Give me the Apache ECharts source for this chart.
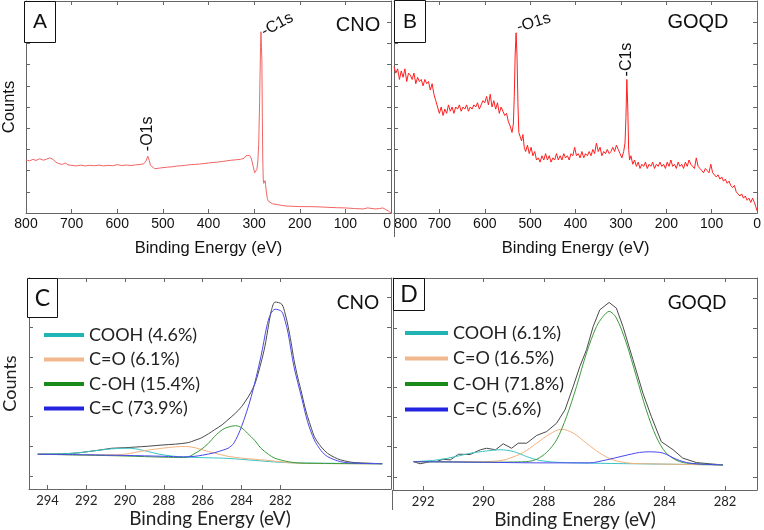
<!DOCTYPE html>
<html><head><meta charset="utf-8">
<script src="https://cdn.jsdelivr.net/npm/echarts@6/dist/echarts.min.js"></script>
<style>html,body{margin:0;padding:0;background:#fff}#c{width:764px;height:530px}</style>
</head><body><div id="c"></div>
<script>
// ---------- DATA ----------
const surveyMin = 0, surveyMax = 800;
const xLabel = 'Binding Energy (eV)';
const yLabel = 'Counts';
const panelLetters = ['A', 'B', 'C', 'D'];
const sampleNames = ['CNO', 'GOQD', 'CNO', 'GOQD'];

// survey spectra [binding energy, counts (arb.)]
const cnoSurvey = [[800,25.0],[792,24.6],[785,25.3],[778,24.8],[770,25.6],[762,24.9],[755,25.4],[748,26.0],[744,26.8],[740,25.2],[735,24.0],[728,23.3],[720,22.9],[714,23.6],[708,22.7],[700,22.5],[690,22.2],[680,22.6],[670,22.2],[660,22.5],[650,22.3],[640,22.6],[630,22.2],[620,22.5],[610,22.3],[600,22.8],[590,22.4],[580,22.6],[570,22.4],[560,22.7],[550,22.9],[542,23.2],[537,24.5],[533,26.8],[530,24.8],[527,22.5],[523,21.6],[518,20.9],[510,21.1],[500,21.4],[490,21.6],[480,21.8],[470,22.1],[460,22.3],[450,22.5],[440,22.8],[430,22.9],[420,23.1],[410,23.3],[400,23.6],[390,23.8],[380,24.0],[370,24.3],[360,24.6],[350,24.9],[340,25.1],[330,25.3],[322,25.8],[318,27.0],[314,27.6],[310,27.2],[306,25.6],[302,22.0],[299,19.0],[297,18.3],[294,20.5],[292,24],[290,32],[288,52],[286,78],[285,85.5],[284,86],[283,72],[282,45],[281,25],[280,16],[279,14],[277,13.3],[276,15.3],[275,13.5],[273,9.5],[271,6.8],[269,5.6],[265,4.9],[260,4.4],[250,4.0],[240,3.6],[230,3.3],[220,3.2],[200,3.0],[180,3.0],[160,2.9],[140,2.7],[120,2.5],[100,2.4],[80,2.1],[60,1.9],[52,2.4],[48,2.9],[44,2.2],[35,1.9],[25,2.1],[18,2.4],[12,1.7],[6,1.0],[2,0.5],[0,0]];

const goqdSurvey = [[800,69],[796,66],[792,68],[788,63],[784,67],[780,64],[776,68],[772,62],[768,66],[764,65],[760,63],[756,66],[752,61],[748,64],[744,62],[740,63],[736,60],[732,63],[728,61],[724,62],[720,58],[716,61],[712,56],[708,53],[704,50],[700,47],[696,50],[692,46],[688,49],[684,47],[680,51],[676,48],[672,50],[668,47],[664,50],[660,49],[656,51],[652,48],[648,50],[644,49],[640,51],[636,48],[632,50],[628,49],[624,51],[620,50],[616,52],[612,49],[608,51],[604,53],[600,52],[596,55],[592,51],[588,56],[584,50],[580,53],[576,49],[572,52],[568,47],[564,50],[560,48],[556,46],[552,47],[548,43],[544,41],[540,38],[537,42],[535,55],[533,75],[531,85],[529,74],[527,52],[525,38],[522,36],[519,34],[516,37],[513,31],[510,29],[506,32],[502,28],[498,31],[494,27],[490,29],[486,25],[482,26],[478,24],[474,27],[470,25],[466,28],[462,25],[458,27],[454,24],[450,26],[446,25],[442,28],[438,25],[434,27],[430,25],[426,28],[422,26],[418,27],[414,25],[410,28],[406,27],[402,31],[398,27],[394,28],[390,26],[386,29],[382,26],[378,28],[374,27],[370,29],[366,27],[362,30],[358,28],[354,33],[350,29],[346,31],[342,27],[338,29],[334,28],[330,30],[326,28],[322,29],[318,31],[314,29],[310,32],[306,30],[302,28],[298,26],[294,29],[291,33],[289,45],[287,63],[285,50],[283,30],[281,25],[278,27],[274,23],[270,25],[266,22],[262,24],[258,21],[254,23],[250,22],[246,24],[242,21],[238,23],[234,22],[230,24],[226,21],[222,23],[218,22],[214,24],[210,22],[206,23],[202,21],[198,24],[194,22],[190,25],[186,22],[182,23],[178,21],[174,24],[170,22],[166,23],[162,21],[158,24],[154,22],[150,25],[146,23],[142,22],[138,21],[134,26],[130,22],[126,21],[122,20],[118,19],[114,21],[110,20],[106,19],[102,23],[98,19],[94,18],[90,17],[86,18],[82,16],[78,17],[74,15],[70,16],[66,14],[62,15],[58,13],[54,12],[50,13],[46,10],[42,9],[38,8],[34,9],[30,7],[26,8],[22,6],[18,7],[14,5],[10,7],[6,5],[3,3],[0,1]];

// C1s high-resolution tick labels
const cnoTicks = [282, 284, 286, 288, 290, 292, 294];
const goqdTicks = [282, 284, 286, 288, 290, 292];
const countTicks = [0, 1, 2, 3, 4, 5, 6];

const cnoLegend = ['COOH (4.6%)', 'C=O (6.1%)', 'C-OH (15.4%)', 'C=C (73.9%)'];
const goqdLegend = ['COOH (6.1%)', 'C=O (16.5%)', 'C-OH (71.8%)', 'C=C (5.6%)'];

// CNO C1s
const cnoEnvelope = [[294.5,0.73],[293.5,0.74],[292.5,0.77],[291.9,0.82],[291.2,0.88],[290.7,0.93],[290,0.95],[289.5,0.97],[288.8,1.0],[288.1,1.04],[287.4,1.07],[286.75,1.12],[286.4,1.2],[286.1,1.27],[285.7,1.42],[285.4,1.55],[285,1.72],[284.7,1.89],[284.3,2.12],[284.0,2.33],[283.6,2.72],[283.3,3.12],[283.0,3.8],[282.8,4.35],[282.6,5.1],[282.45,5.6],[282.27,5.85],[281.93,5.78],[281.75,5.45],[281.6,5.03],[281.45,4.5],[281.3,3.91],[281.1,3.3],[280.9,2.78],[280.75,2.35],[280.6,2.0],[280.4,1.6],[280.25,1.32],[279.9,0.98],[279.57,0.76],[279.2,0.62],[278.9,0.54],[278.5,0.48],[278.2,0.45],[277.5,0.43],[276.75,0.41]];
const cnoCOOH = [[294.5,0.73],[293,0.75],[292.1,0.8],[291.4,0.86],[290.7,0.91],[290.1,0.93],[289.7,0.93],[289.2,0.88],[288.8,0.82],[288.3,0.74],[287.6,0.67],[286.75,0.63],[285.7,0.61],[284.7,0.59],[283.3,0.52],[282.3,0.47],[281.3,0.44],[276.75,0.41]];
const cnoCO = [[294.5,0.73],[292,0.71],[290.5,0.71],[289.9,0.74],[289.5,0.79],[288.8,0.87],[288.1,0.93],[287.4,0.98],[286.9,0.99],[286.4,0.95],[285.7,0.82],[285.1,0.72],[284.7,0.66],[284,0.6],[283.3,0.56],[282.3,0.5],[281.6,0.45],[280.5,0.42],[276.75,0.41]];
const cnoCOH = [[294.5,0.73],[292,0.7],[290,0.67],[288,0.63],[287,0.62],[286.75,0.64],[286.5,0.72],[286.1,0.88],[285.7,1.1],[285.4,1.32],[285,1.55],[284.7,1.64],[284.3,1.69],[284.0,1.62],[283.7,1.44],[283.3,1.18],[283.0,0.93],[282.6,0.72],[282.3,0.6],[281.6,0.48],[280.9,0.43],[276.75,0.41]];
const cnoCC = [[294.5,0.73],[292,0.71],[290,0.69],[288,0.66],[287,0.64],[286.4,0.66],[286,0.7],[285.4,0.78],[285,0.86],[284.7,0.93],[284.4,1.1],[284.0,1.66],[283.5,2.67],[283.0,4.02],[282.7,5.03],[282.5,5.45],[282.27,5.61],[281.93,5.53],[281.75,5.2],[281.6,4.8],[281.3,3.68],[280.9,2.62],[280.6,1.83],[280.25,1.21],[279.9,0.85],[279.57,0.65],[278.9,0.48],[278.2,0.43],[276.75,0.41]];

// GOQD C1s
const goqdEnvelope = [[292.32,0.51],[292.1,0.44],[291.77,0.51],[291.55,0.52],[291.33,0.59],[291.1,0.57],[290.83,0.76],[290.45,0.75],[290.1,0.91],[289.9,0.96],[289.6,0.91],[289.35,1.11],[289.07,0.96],[288.85,1.13],[288.57,1.13],[288.24,1.39],[287.91,1.52],[287.58,1.8],[287.3,2.25],[287.03,3.03],[286.81,3.7],[286.59,4.26],[286.37,5.04],[286.15,5.6],[285.84,5.85],[285.6,5.66],[285.38,5.04],[285.05,3.93],[284.72,2.81],[284.44,2.02],[284.11,1.18],[283.72,0.91],[283.4,0.63],[282.95,0.48],[282.51,0.44],[282.07,0.4]];
const goqdCOOH = [[292.32,0.51],[291.7,0.55],[291.22,0.62],[290.8,0.71],[290.45,0.79],[289.9,0.87],[289.45,0.91],[289.01,0.85],[288.57,0.68],[288.13,0.55],[287.58,0.49],[286.5,0.46],[285,0.44],[283.5,0.42],[282.07,0.4]];
const goqdCO = [[292.32,0.51],[291,0.51],[290,0.51],[289.5,0.54],[289.23,0.59],[288.68,0.82],[288.24,1.13],[287.8,1.44],[287.42,1.6],[287.03,1.47],[286.59,1.13],[286.15,0.8],[285.71,0.57],[285.16,0.46],[284.6,0.44],[283.5,0.42],[282.07,0.4]];
const goqdCOH = [[292.32,0.51],[291,0.5],[290,0.49],[289,0.5],[288.5,0.52],[288.24,0.59],[287.91,0.82],[287.58,1.24],[287.25,2.02],[286.92,3.03],[286.59,4.15],[286.26,5.04],[286.04,5.38],[285.84,5.55],[285.6,5.33],[285.27,4.49],[284.94,3.37],[284.61,2.25],[284.28,1.35],[283.95,0.8],[283.5,0.51],[282.95,0.44],[282.07,0.4]];
const goqdCC = [[292.32,0.51],[290,0.49],[288,0.47],[286.5,0.47],[285.93,0.57],[285.38,0.7],[284.83,0.82],[284.5,0.84],[284.06,0.8],[283.61,0.59],[283.17,0.46],[282.07,0.4]];

// ---------- STYLE ----------
const ARIAL = '"Liberation Sans", Arial, sans-serif';
const CAL = 'Lato, "Open Sans", sans-serif';
const axisCol = '#666';
const compLine = ['#3cc4c4', '#f2b27e', '#3c9c3c', '#4848ee'];
const compLegend = ['#20b4b4', '#f0b88c', '#1a8a1a', '#2323e0'];

const grids = [
  {left: 24, top: 1, width: 367, height: 212},
  {left: 394, top: 1, width: 367, height: 212},
  {left: 27, top: 278, width: 364, height: 211},
  {left: 393, top: 278, width: 364, height: 212}
];

function surveyX(gi, top) {
  return {
    type: 'value', gridIndex: gi, inverse: true, min: surveyMin, max: surveyMax, interval: 100,
    position: top ? 'top' : 'bottom',
    axisLine: {show: true, onZero: false, lineStyle: {color: axisCol, width: 1}},
    axisTick: {show: true, inside: true, length: 4, lineStyle: {color: axisCol}},
    splitLine: {show: false},
    axisLabel: top ? {show: false} : {show: true, fontFamily: ARIAL, fontSize: 14, color: '#111', margin: 4,
      alignMinLabel: gi === 0 ? 'right' : undefined, alignMaxLabel: gi === 1 ? 'left' : undefined},
    name: top ? '' : xLabel, nameLocation: 'middle', nameGap: 27,
    nameTextStyle: {fontFamily: ARIAL, fontSize: 16.5, color: '#111'}
  };
}
function hrX(gi, min, max, ticks, top) {
  return {
    type: 'value', gridIndex: gi, inverse: true, min: min, max: max,
    position: top ? 'top' : 'bottom',
    axisLine: {show: true, onZero: false, lineStyle: {color: axisCol, width: 1}},
    axisTick: {show: true, inside: true, length: 4, customValues: ticks, lineStyle: {color: axisCol}},
    splitLine: {show: false},
    axisLabel: top ? {show: false} : {show: true, customValues: ticks, fontFamily: CAL, fontSize: 13, color: '#222', margin: 5},
    name: top ? '' : xLabel, nameLocation: 'middle', nameGap: 20,
    nameTextStyle: {fontFamily: CAL, fontSize: 19, color: '#222'}
  };
}
function surveyY(gi, right, named) {
  return {
    type: 'value', gridIndex: gi, min: 0, max: 100, interval: 10, position: right ? 'right' : 'left',
    axisLine: {show: true, onZero: false, lineStyle: {color: axisCol, width: 1}},
    axisTick: {show: true, inside: true, length: 4, lineStyle: {color: axisCol}},
    axisLabel: {show: false}, splitLine: {show: false},
    name: named ? yLabel : '', nameLocation: 'middle', nameGap: 8, nameRotate: 90,
    nameTextStyle: {fontFamily: ARIAL, fontSize: 16.5, color: '#111'}
  };
}
function hrY(gi, min, max, right, named) {
  return {
    type: 'value', gridIndex: gi, min: min, max: max, position: right ? 'right' : 'left',
    axisLine: {show: true, onZero: false, lineStyle: {color: axisCol, width: 1}},
    axisTick: {show: true, inside: true, length: 4, customValues: countTicks, lineStyle: {color: axisCol}},
    axisLabel: {show: false}, splitLine: {show: false},
    name: named ? yLabel : '', nameLocation: 'middle', nameGap: 10, nameRotate: 90,
    nameTextStyle: {fontFamily: CAL, fontSize: 18, color: '#222'}
  };
}

const xAxes = [
  surveyX(0, false), surveyX(1, false),
  hrX(2, 276.3, 294.95, cnoTicks, false), hrX(3, 280.94, 293.0, goqdTicks, false),
  surveyX(0, true), surveyX(1, true),
  hrX(2, 276.3, 294.95, cnoTicks, true), hrX(3, 280.94, 293.0, goqdTicks, true)
];
const yAxes = [
  surveyY(0, false, true), surveyY(1, false, false),
  hrY(2, -0.44, 6.66, false, true), hrY(3, -0.44, 6.67, false, false),
  surveyY(0, true, false), surveyY(1, true, false),
  hrY(2, -0.44, 6.66, true, false), hrY(3, -0.44, 6.67, true, false)
];

function line(idx, data, color, width, smooth, name) {
  return {type: 'line', name: name, xAxisIndex: idx, yAxisIndex: idx, data: data,
    showSymbol: false, symbol: 'none', smooth: smooth, silent: true,
    lineStyle: {color: color, width: width}, itemStyle: {color: color}, z: 2};
}

const series = [
  line(0, cnoSurvey, '#f26464', 1, false, 'cno'),
  line(1, goqdSurvey, '#ff1e1e', 1, false, 'goqd'),
  line(2, cnoEnvelope, '#4a4a4a', 1, 0.3, 'cnoEnv'),
  line(2, cnoCOOH, compLine[0], 1, 0.3, cnoLegend[0]),
  line(2, cnoCO, compLine[1], 1, 0.3, cnoLegend[1]),
  line(2, cnoCOH, compLine[2], 1, 0.3, cnoLegend[2]),
  line(2, cnoCC, compLine[3], 1, 0.3, cnoLegend[3]),
  line(3, goqdEnvelope, '#4a4a4a', 1, false, 'goqdEnv'),
  line(3, goqdCOOH, compLine[0], 1, 0.3, goqdLegend[0]),
  line(3, goqdCO, compLine[1], 1, 0.3, goqdLegend[1]),
  line(3, goqdCOH, compLine[2], 1, 0.3, goqdLegend[2]),
  line(3, goqdCC, compLine[3], 1, 0.3, goqdLegend[3])
];

function legend(names, left, top, w, gap) {
  return {
    data: names.map((n, i) => ({name: n, icon: 'rect', itemStyle: {color: compLegend[i]}})),
    orient: 'vertical', left: left, top: top, itemWidth: w, itemHeight: 4, itemGap: gap,
    padding: 0, selectedMode: false,
    textStyle: {fontFamily: CAL, fontSize: 18, color: '#222', lineHeight: 20}
  };
}

const option = {
  animation: false,
  backgroundColor: '#fff',
  grid: grids,
  xAxis: xAxes,
  yAxis: yAxes,
  legend: [legend(cnoLegend, 44, 325, 40, 4.5), legend(goqdLegend, 405, 323, 43, 5.5)],
  series: series
};

const chart = echarts.init(document.getElementById('c'), null, {renderer: 'canvas'});
chart.setOption(option);

function peak(arr, lo, hi) {
  let best = null;
  for (const p of arr) if (p[0] >= lo && p[0] <= hi && (!best || p[1] > best[1])) best = p;
  return best;
}
const P = (i, pt) => chart.convertToPixel({xAxisIndex: i, yAxisIndex: i}, pt);

function txt(x, y, text, font, rot, align, valign) {
  return {type: 'text', x: x, y: y, rotation: rot || 0, z: 20,
    style: {text: text, font: font, fill: '#111', align: align || 'left', verticalAlign: valign || 'middle',
      textAlign: align || 'left', textVerticalAlign: valign || 'middle'}};
}
function box(x, y, w, h, letter, font) {
  return [
    {type: 'rect', z: 19, shape: {x: x + 0.5, y: y + 0.5, width: w, height: h},
      style: {fill: '#fff', stroke: '#111', lineWidth: 1}},
    txt(x + w / 2 + 0.5, y + h / 2 + 1, letter, font, 0, 'center', 'middle')
  ];
}

const aO = P(0, peak(cnoSurvey, 520, 545));
const aC = P(0, peak(cnoSurvey, 278, 292));
const bO = P(1, peak(goqdSurvey, 520, 545));
const bC = P(1, peak(goqdSurvey, 278, 292));

const graphics = [].concat(
  box(24, 1, 31, 41, panelLetters[0], '21px ' + ARIAL),
  box(394, 0, 31, 42, panelLetters[1], '21px ' + ARIAL),
  box(27, 278, 30, 39, panelLetters[2], '23px ' + CAL),
  box(393, 278, 31, 32, panelLetters[3], '23px ' + CAL),
  [
    txt(358, 25, sampleNames[0], '20px ' + ARIAL, 0, 'center', 'middle'),
    txt(698, 22, sampleNames[1], '20px ' + ARIAL, 0, 'center', 'middle'),
    txt(358, 303, sampleNames[2], '19px ' + CAL, 0, 'center', 'middle'),
    txt(697, 303, sampleNames[3], '19px ' + CAL, 0, 'center', 'middle'),
    txt(aO[0], aO[1] - 5, '-O1s', '16px ' + ARIAL, Math.PI / 2, 'left', 'middle'),
    txt(aC[0] + 1, aC[1] + 2, '-C1s', '16px ' + ARIAL, 0.5, 'left', 'middle'),
    txt(bO[0] + 1, bO[1] - 5, '-O1s', '16px ' + ARIAL, 0.3, 'left', 'middle'),
    txt(bC[0], bC[1] - 3, '-C1s', '16px ' + ARIAL, Math.PI / 2, 'left', 'middle'),
    {type: 'line', z: 5, shape: {x1: 394.5, y1: 213, x2: 394.5, y2: 237}, style: {stroke: axisCol, lineWidth: 1}},
    {type: 'line', z: 5, shape: {x1: 392.5, y1: 490, x2: 392.5, y2: 510}, style: {stroke: axisCol, lineWidth: 1}}
  ]
);
chart.setOption({graphic: graphics});
</script>
</body></html>
